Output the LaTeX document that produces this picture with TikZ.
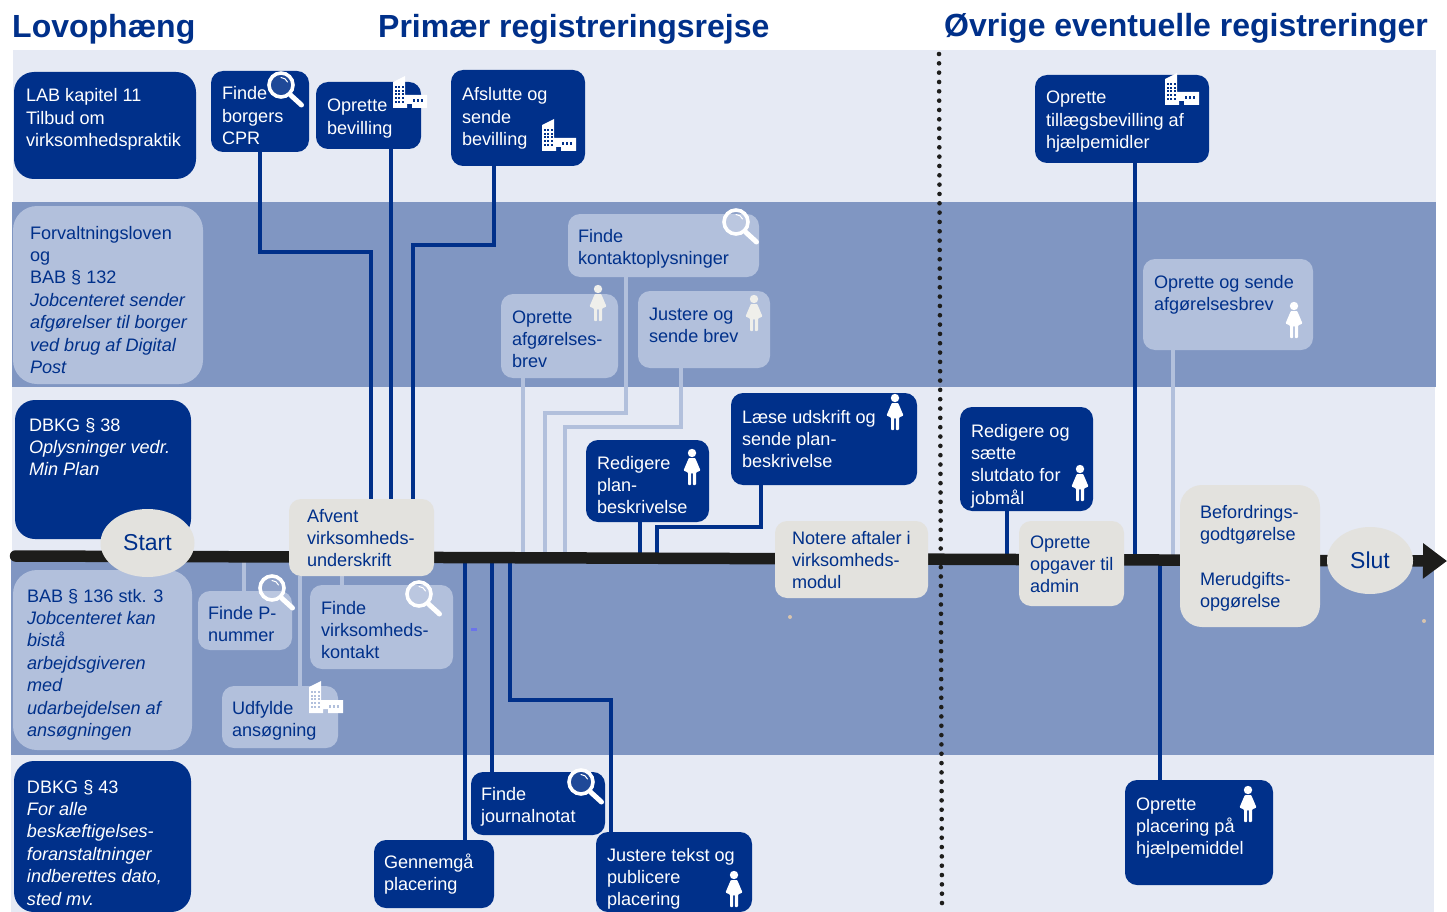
\documentclass[tikz,border=0pt]{standalone}
\usepackage{fontspec}
\setmainfont{Liberation Sans}
\usetikzlibrary{shapes.geometric,arrows.meta}
\definecolor{navy}{HTML}{00308A}
\definecolor{bandlight}{HTML}{E6EAF4}
\definecolor{bandmid}{HTML}{8096C2}
\definecolor{paleblue}{HTML}{B2C0DC}
\definecolor{stone}{HTML}{E3E2DE}
\definecolor{figpale}{HTML}{EFEFEB}
\definecolor{tline}{HTML}{1D1D1B}
\pgfdeclarelayer{bands}\pgfdeclarelayer{lines}\pgfdeclarelayer{axis}
\pgfsetlayers{bands,lines,axis,main}
\newcommand{\flowbox}[9]{%
 \node[#2,anchor=north west,inner sep=0pt,outer sep=0pt] (#1) at (#3,#4) {%
  \parbox[c][\dimexpr#6pt-#4pt\relax][t]{\dimexpr#5pt-#3pt\relax}{%
   \leftskip=\dimexpr#7pt-#3pt\relax\rightskip=0pt plus 1fil\parindent=0pt
   \vspace*{\dimexpr#8pt-#4pt-15pt\relax}\rule{0pt}{15pt}#9}};}
\tikzset{
 bodytext/.style={font=\fontsize{18.1}{22.4}\selectfont},
 dkbox/.style={bodytext,fill=navy,text=white,rounded corners=12pt},
 palebox/.style={bodytext,fill=paleblue,text=navy,rounded corners=12pt},
 stonebox/.style={bodytext,fill=stone,text=navy,rounded corners=12pt},
 big/.style={rounded corners=20pt},
 mark node/.style={ellipse,fill=stone,text=navy,inner sep=0pt,font=\fontsize{23}{26}\selectfont},
 titletext/.style={text=navy,inner sep=0pt,anchor=base west,font=\fontsize{32}{36}\selectfont\bfseries},
 dkline/.style={draw=navy,line width=4pt},
 paleline/.style={draw=paleblue,line width=4.5pt},
 pics/lens/.style={code={
   \draw[white,line width=3.6pt,fill=white,fill opacity=.12] (0,0) circle (12pt);
   \draw[white,line width=1pt,line cap=round] (0,-7.5) .. controls (3,-7.5) and (5.5,-5.5) .. (6.5,-3);
   \draw[white,line width=5pt,line cap=round] (9.5,10) -- (20.5,20);}},
 pics/person/.style={code={
   \fill[#1] (0,0) circle (4.2pt);
   \fill[#1,rounded corners=.8pt] (-3.2,5) -- (3.2,5) -- (8.5,17.5) -- (4,19.5) -- (4,32) -- (.9,32) -- (.9,20)
     -- (-.9,20) -- (-.9,32) -- (-4,32) -- (-4,19.5) -- (-8.5,17.5) -- cycle;}},
 pics/works/.style={code={
   \fill[white] (0,6) -- (12,0) -- (12,19) -- (34,19) -- (34,32) -- (19,32) -- (19,28) -- (14,28) -- (14,32) -- (0,32) -- cycle;
   \foreach \yy in {10,13.7,17.4,21.1,24.8}\foreach \xx in {1.8,5.2,8.6}
     \fill[#1] (\xx,\yy) rectangle ++(2,2);
   \foreach \xx in {20,24,28}
     \fill[#1] (\xx,23.5) rectangle ++(2.4,3);}}
}
\begin{document}
\begin{tikzpicture}[x=1pt,y=-1pt]
\useasboundingbox (0,0) rectangle (1447,912);
\begin{pgfonlayer}{bands}
 \fill[white] (0,0) rectangle (1447,912);
 \fill[bandlight] (13,50) rectangle (1436,202);
 \fill[bandmid] (12,202) rectangle (1436,387);
 \fill[bandlight] (12,387) rectangle (1435,560);
 \fill[bandmid] (11,560) rectangle (1434,755);
 \fill[bandlight] (11,755) rectangle (1434,912);
 \fill[stone!70!brown] (790,617) circle (2pt);
 \fill[stone!70!brown] (1424,621) circle (2pt);
 \fill[paleblue!60!blue] (471,627.5) rectangle (477,630.5);
\end{pgfonlayer}

\node[titletext] (t1) at (12,38) {Lovophæng};
\node[titletext] (t2) at (378,38) {Primær registreringsrejse};
\node[titletext] (t3) at (944,37) {Øvrige eventuelle registreringer};

% Left column
\flowbox{lab}{dkbox,big}{14}{72}{196}{179}{26}{102}{LAB kapitel 11\\Tilbud om\\virksomhedspraktik}
\flowbox{forv}{palebox,rounded corners=24pt}{13}{206}{203}{384}{30}{239}{Forvaltningsloven\\og\\BAB § 132\\{\itshape Jobcenteret sender\\afgørelser til borger\\ved brug af Digital\\Post}}
\flowbox{dbkga}{dkbox,big}{15}{400}{191}{539}{29}{431}{DBKG § 38\\{\itshape Oplysninger vedr.\\Min Plan}}
\flowbox{bab}{palebox,rounded corners=24pt}{13}{570}{192}{750}{27}{602}{BAB § 136 stk. 3\\{\itshape Jobcenteret kan\\bistå\\arbejdsgiveren\\med\\udarbejdelsen af\\ansøgningen}}
\flowbox{dbkgb}{dkbox,big}{14}{761}{191}{912}{27}{793}{DBKG § 43\\{\itshape For alle\\beskæftigelses-\\foranstaltninger\\indberettes dato,\\sted mv.}}

% Top row
\flowbox{cpr}{dkbox}{211}{71}{309}{152}{222}{100}{Finde\\borgers\\CPR}
\flowbox{bev}{dkbox}{316}{82}{421}{149}{327}{112}{Oprette\\bevilling}
\flowbox{afs}{dkbox}{451}{70}{585}{166}{462}{101}{Afslutte og\\sende\\bevilling}
\flowbox{till}{dkbox}{1035}{75}{1209}{163}{1046}{104}{Oprette\\tillægsbevilling af\\hjælpemidler}

% Second band
\flowbox{kont}{palebox}{568}{214}{759}{277}{578}{242}{Finde\\kontaktoplysninger}
\flowbox{afg}{palebox}{501}{294}{618}{378}{512}{323}{Oprette\\afgørelses-\\brev}
\flowbox{jus}{palebox}{638}{291}{770}{368}{649}{320}{Justere og\\sende brev}
\flowbox{sendafg}{palebox}{1143}{259}{1313}{350}{1154}{288}{Oprette og sende\\afgørelsesbrev}

% Third band
\flowbox{laes}{dkbox}{731}{393}{917}{485}{742}{423}{Læse udskrift og\\sende plan-\\beskrivelse}
\flowbox{red}{dkbox}{586}{440}{709}{522}{597}{469}{Redigere\\plan-\\beskrivelse}
\flowbox{slutd}{dkbox}{960}{407}{1093}{511}{971}{437}{Redigere og\\sætte\\slutdato for\\jobmål}

% On the timeline
\flowbox{afv}{stonebox}{289}{499}{434}{576}{307}{522}{Afvent\\virksomheds-\\underskrift}
\flowbox{not}{stonebox}{775}{521}{928}{598}{792}{544}{Notere aftaler i\\virksomheds-\\modul}
\flowbox{opg}{stonebox}{1019}{521}{1124}{606}{1030}{548}{Oprette\\opgaver til\\admin}
\flowbox{bef}{stonebox,rounded corners=22pt}{1180}{485}{1320}{627}{1200}{518}{Befordrings-\\godtgørelse\\\\Merudgifts-\\opgørelse}
\node[mark node,minimum width=94pt,minimum height=68pt] (start) at (147.5,543) {Start};
\node[mark node,minimum width=86pt,minimum height=67pt] (slut) at (1370,560.5) {Slut};

% Fourth band
\flowbox{pnr}{palebox}{198}{591}{292}{650}{208}{619}{Finde P-\\nummer}
\flowbox{vkont}{palebox}{310}{585}{453}{669}{321}{614}{Finde\\virksomheds-\\kontakt}
\flowbox{udf}{palebox}{222}{686}{338}{748}{232}{714}{Udfylde\\ansøgning}

% Bottom band
\flowbox{journ}{dkbox}{471}{772}{605}{835}{481}{800}{Finde\\journalnotat}
\flowbox{genn}{dkbox}{374}{840}{494}{908}{384}{868}{Gennemgå\\placering}
\flowbox{justt}{dkbox}{596}{832}{752}{912}{607}{861}{Justere tekst og\\publicere\\placering}
\flowbox{plac}{dkbox}{1125}{780}{1273}{885}{1136}{810}{Oprette\\placering på\\hjælpemiddel}

% Named bends of the connectors
\coordinate (a1) at (260,252); \coordinate (a2) at (371,252);
\coordinate (b1) at (391,300);
\coordinate (c1) at (494,245); \coordinate (c2) at (413,245);
\coordinate (d1) at (626,413); \coordinate (d2) at (545,413); \coordinate (d3) at (545,558);
\coordinate (e1) at (523,558);
\coordinate (f1) at (681,427); \coordinate (f2) at (565,427); \coordinate (f3) at (565,558);
\coordinate (g1) at (761,527); \coordinate (g2) at (657,527); \coordinate (g3) at (657,558);
\coordinate (h1) at (640,558);
\coordinate (i1) at (1007,558);
\coordinate (j1) at (1135,558);
\coordinate (k1) at (1173,558);
\coordinate (l1) at (244,558);
\coordinate (m1) at (300,570);
\coordinate (n1) at (342,570);
\coordinate (o1) at (465,558);
\coordinate (p1) at (492,558);
\coordinate (q1) at (510,558); \coordinate (q2) at (510,700); \coordinate (q3) at (611,700);
\coordinate (r1) at (1160,558);
\coordinate (tlstart) at (15.5,556);
\coordinate (tlend) at (1447,561);
\coordinate (sepa) at (939,54);
\coordinate (sepb) at (942,911);

\begin{pgfonlayer}{lines}
 \draw[dkline] (a1 |- cpr.south) -- (a1) -- (a2) -- (a2 |- afv.north);
 \draw[dkline] (b1 |- bev.south) -- (b1 |- afv.north);
 \draw[dkline] (c1 |- afs.south) -- (c1) -- (c2) -- (c2 |- afv.north);
 \draw[dkline] (j1 |- till.south) -- (j1);
 \draw[paleline] (d1 |- kont.south) -- (d1) -- (d2) -- (d3);
 \draw[paleline] (e1 |- afg.south) -- (e1);
 \draw[paleline] (f1 |- jus.south) -- (f1) -- (f2) -- (f3);
 \draw[paleline] (k1 |- sendafg.south) -- (k1);
 \draw[dkline] (g1 |- laes.south) -- (g1) -- (g2) -- (g3);
 \draw[dkline] (h1 |- red.south) -- (h1);
 \draw[dkline] (i1 |- slutd.south) -- (i1);
 \draw[paleline] (l1 |- pnr.north) -- (l1);
 \draw[paleline] (m1 |- udf.north) -- (m1 |- afv.south);
 \draw[paleline] (n1 |- vkont.north) -- (n1 |- afv.south);
 \draw[dkline] (o1) -- (o1 |- genn.north);
 \draw[dkline] (p1) -- (p1 |- journ.north);
 \draw[dkline] (q1) -- (q2) -- (q3) -- (q3 |- justt.north);
 \draw[dkline] (r1) -- (r1 |- plac.north);
\end{pgfonlayer}

\begin{pgfonlayer}{axis}
 \draw[tline,line width=11.5pt,line cap=round,-{Triangle[length=24pt,width=34pt]}] (tlstart) -- (tlend);
 \draw[tline,line width=4.6pt,line cap=round,dash pattern=on 0pt off 9.33pt] (sepa) -- (sepb);
\end{pgfonlayer}

% Icons
\pic at (281,85) {lens};
\pic at (736,222) {lens};
\pic at (272,588) {lens};
\pic at (419,594) {lens};
\pic at (581,782) {lens};
\pic at (598,289) {person=figpale};
\pic at (754,299) {person=figpale};
\pic at (895,398) {person=white};
\pic at (692,453) {person=white};
\pic at (1080,469) {person=white};
\pic at (1294,306) {person=white};
\pic at (1248,790) {person=white};
\pic at (734,875) {person=white};
\pic at (393,76) {works=navy};
\pic at (542,119) {works=navy};
\pic at (1165,73) {works=navy};
\pic at (309,681) {works=paleblue};
\end{tikzpicture}
\end{document}
